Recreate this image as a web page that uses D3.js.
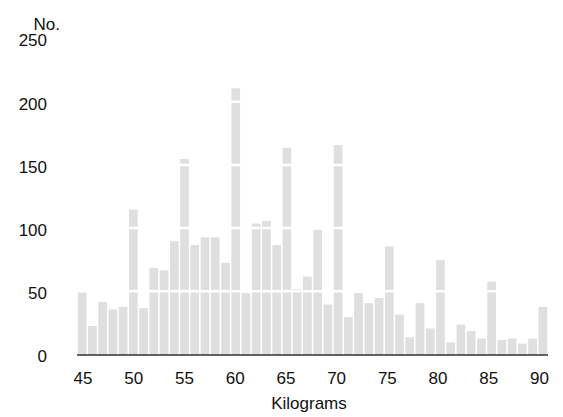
<!DOCTYPE html>
<html>
<head>
<meta charset="utf-8">
<script src="https://cdn.jsdelivr.net/npm/d3@7"></script>
<style>
  body { margin: 0; background: #fff; }
  text { font-family: "Liberation Sans", Arial, sans-serif; }
</style>
</head>
<body>
<svg id="chart"></svg>
<script>
var w = 563;
var h = 417;

// weights 45..90 kg, one bar per kilogram
var kilos = d3.range(45, 91);
var counts = [50, 23, 42, 36, 38, 115, 37, 69, 67, 90,
              155, 87, 93, 93, 73, 211, 49, 104, 106, 87,
              164, 52, 62, 99, 40, 166, 30, 49, 41, 45,
              86, 32, 14, 41, 21, 75, 10, 24, 19, 13,
              58, 12, 13, 9, 13, 38];
var yTicks = [0, 50, 100, 150, 200, 250];
var xTicks = [45, 50, 55, 60, 65, 70, 75, 80, 85, 90];

var svg = d3.select("#chart")
    .attr("width", w)
    .attr("height", h);

var x = d3.scaleBand()
    .domain(kilos)
    .range([77, 548])
    .paddingInner(0.15)
    .paddingOuter(0.08);

var xLin = d3.scaleLinear()
    .domain([45, 90])
    .range([82.5, 539]);

var y = d3.scaleLinear()
    .domain([0, 250])
    .range([355, 39]);

// bars
svg.selectAll("rect.bar")
    .data(counts)
    .enter()
    .append("rect")
    .attr("class", "bar")
    .attr("x", function(d, i){ return x(kilos[i]); })
    .attr("width", x.bandwidth())
    .attr("y", function(d){ return y(d); })
    .attr("height", function(d){ return y(0) - y(d); })
    .attr("fill", "#dfdfdf");

// white grid lines over the bars
svg.selectAll("line.grid")
    .data(yTicks.filter(function(d){ return d > 0; }))
    .enter()
    .append("line")
    .attr("class", "grid")
    .attr("x1", 77)
    .attr("x2", 548)
    .attr("y1", function(d){ return y(d) - 0.5; })
    .attr("y2", function(d){ return y(d) - 0.5; })
    .attr("stroke", "#fff")
    .attr("stroke-width", 2.5);

// baseline
svg.append("line")
    .attr("x1", 77)
    .attr("x2", 548)
    .attr("y1", y(0))
    .attr("y2", y(0))
    .attr("stroke", "#333")
    .attr("stroke-width", 1.5);

var yAxis = svg.append("g")
    .attr("transform", "translate(50,1.5)")
    .call(d3.axisLeft(y).tickValues(yTicks).tickSize(0).tickPadding(3));
yAxis.select(".domain").remove();

var xAxis = svg.append("g")
    .attr("transform", "translate(0," + y(0) + ")")
    .call(d3.axisBottom(xLin).tickValues(xTicks).tickSize(0).tickPadding(17));
xAxis.select(".domain").remove();

svg.selectAll(".tick text")
    .attr("fill", "#111")
    .style("font-size", "17px")
    .style("font-family", "Liberation Sans, Arial, sans-serif");

svg.append("text")
    .attr("x", 60)
    .attr("y", 29.5)
    .attr("text-anchor", "end")
    .attr("fill", "#111")
    .style("font-size", "17px")
    .text("No.");

svg.append("text")
    .attr("x", 309)
    .attr("y", 409)
    .attr("text-anchor", "middle")
    .attr("fill", "#111")
    .style("font-size", "17px")
    .text("Kilograms");
</script>
</body>
</html>
